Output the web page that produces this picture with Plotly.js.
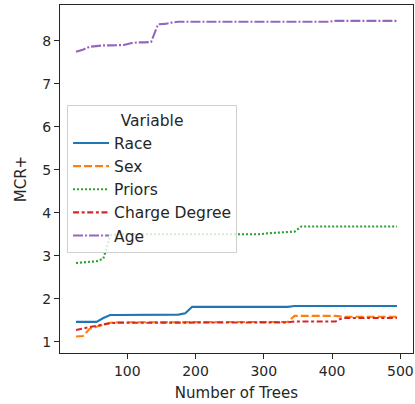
<!DOCTYPE html>
<html>
<head>
<meta charset="utf-8">
<script src="https://cdn.plot.ly/plotly-3.0.1.min.js"></script>
<style>html,body{margin:0;padding:0;background:#fff}#chart{width:415px;height:404px}</style>
</head>
<body>
<div id="chart"></div>
<script>
const nTrees = [25,35,45,55,65,75,85,95,105,115,125,135,145,155,165,175,185,195,205,215,225,235,245,255,265,275,285,295,305,315,325,335,345,355,365,375,385,395,405,415,425,435,445,455,465,475,485,495];
const race = [1.46,1.46,1.46,1.46,1.55,1.62,1.62,1.62,1.62,1.62,1.62,1.62,1.62,1.62,1.62,1.63,1.66,1.81,1.81,1.81,1.81,1.81,1.81,1.81,1.81,1.81,1.81,1.81,1.81,1.81,1.81,1.81,1.83,1.83,1.83,1.83,1.83,1.83,1.83,1.83,1.83,1.83,1.83,1.83,1.83,1.83,1.83,1.83];
const sex = [1.12,1.13,1.30,1.35,1.40,1.44,1.45,1.45,1.45,1.45,1.45,1.45,1.45,1.45,1.45,1.45,1.45,1.45,1.45,1.45,1.45,1.45,1.45,1.45,1.46,1.46,1.46,1.46,1.46,1.46,1.46,1.46,1.60,1.60,1.60,1.60,1.60,1.60,1.60,1.58,1.58,1.58,1.58,1.58,1.58,1.58,1.58,1.58];
const priors = [2.83,2.84,2.85,2.87,2.93,3.47,3.50,3.50,3.50,3.50,3.50,3.50,3.50,3.50,3.50,3.50,3.50,3.50,3.50,3.50,3.50,3.50,3.50,3.50,3.50,3.50,3.50,3.50,3.52,3.53,3.53,3.54,3.56,3.68,3.68,3.68,3.68,3.68,3.68,3.68,3.68,3.68,3.68,3.68,3.68,3.68,3.68,3.68];
const chargeDegree = [1.27,1.31,1.34,1.37,1.40,1.43,1.44,1.44,1.44,1.44,1.44,1.44,1.44,1.44,1.44,1.44,1.44,1.44,1.44,1.45,1.45,1.45,1.45,1.45,1.45,1.45,1.45,1.45,1.45,1.45,1.45,1.45,1.47,1.47,1.47,1.47,1.47,1.47,1.47,1.55,1.55,1.55,1.55,1.55,1.55,1.55,1.55,1.55];
const age = [7.74,7.79,7.86,7.88,7.89,7.89,7.90,7.90,7.94,7.96,7.96,7.97,8.38,8.39,8.42,8.44,8.44,8.44,8.44,8.44,8.44,8.44,8.44,8.44,8.44,8.44,8.44,8.44,8.44,8.44,8.44,8.44,8.44,8.44,8.44,8.44,8.44,8.44,8.46,8.46,8.46,8.46,8.46,8.46,8.46,8.46,8.46,8.46];

const names = ["Race","Sex","Priors","Charge Degree","Age"];
const seriesList = [race, sex, priors, chargeDegree, age];
const colors = ["#1f77b4","#ff7f0e","#2ca02c","#d62728","#9467bd"];
const dashes = ["solid","8px,3px","2px,2px","6px,2.6px,3px,2.6px","10px,2px,2px,2px"];

const traces = seriesList.map((ys, i) => ({
  x: nTrees, y: ys, type: "scatter", mode: "lines", name: names[i],
  line: {color: colors[i], width: 2.1, dash: dashes[i]}
}));

const fam = "DejaVu Sans, sans-serif";
const tickFont = {family: fam, size: 14, color: "#262626"};
const titleFont = {family: fam, size: 15, color: "#262626"};
const legFont = {family: fam, size: 15.5, color: "#262626"};
const layout = {
  width: 415, height: 404,
  margin: {l: 60, r: 2, t: 5, b: 51},
  paper_bgcolor: "#fff", plot_bgcolor: "#fff",
  font: tickFont,
  showlegend: true,
  legend: {
    x: 0.02, y: 0.712, xanchor: "left", yanchor: "top",
    bgcolor: "rgba(255,255,255,0.8)", bordercolor: "#d0d0d0", borderwidth: 1,
    font: legFont, itemwidth: 36,
    title: {text: "Variable", side: "top center", font: legFont}
  },
  xaxis: {
    range: [1.5, 518.5], tickmode: "array", tickvals: [100,200,300,400,500],
    ticks: "outside", ticklen: 5, tickcolor: "#262626", showgrid: false, zeroline: false,
    showline: true, linecolor: "#262626", linewidth: 1, mirror: true, tickfont: tickFont,
    title: {text: "Number of Trees", font: titleFont, standoff: 9}
  },
  yaxis: {
    range: [0.737, 8.83], tickmode: "array", tickvals: [1,2,3,4,5,6,7,8],
    ticks: "outside", ticklen: 5, tickcolor: "#262626", showgrid: false, zeroline: false,
    showline: true, linecolor: "#262626", linewidth: 1, mirror: true, tickfont: tickFont,
    title: {text: "MCR+", font: titleFont, standoff: 12}
  }
};
Plotly.newPlot("chart", traces, layout, {displayModeBar: false, staticPlot: true});
</script>
</body>
</html>
